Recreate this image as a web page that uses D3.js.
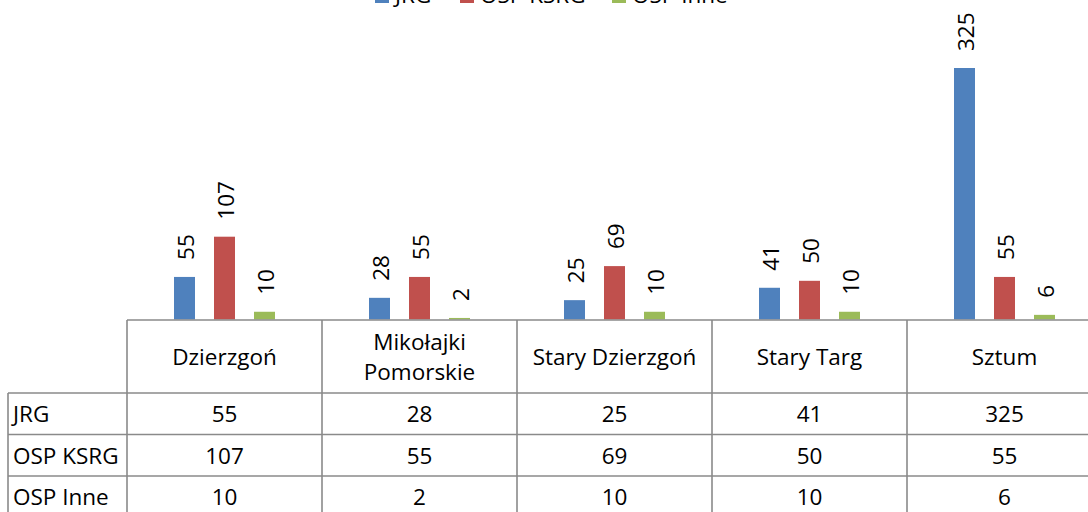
<!DOCTYPE html>
<html>
<head>
<meta charset="utf-8">
<script src="https://cdn.jsdelivr.net/npm/d3@7"></script>
<style>
  html, body { margin: 0; padding: 0; background: #fff; overflow: hidden; }
  svg { display: block; font-family: "Open Sans", sans-serif; }
</style>
</head>
<body>
<svg id="chart" width="1088" height="512"></svg>
<script>
const categories = ["Dzierzgoń", "Mikołajki Pomorskie", "Stary Dzierzgoń", "Stary Targ", "Sztum"];
const categoryLines = [["Dzierzgoń"], ["Mikołajki", "Pomorskie"], ["Stary Dzierzgoń"], ["Stary Targ"], ["Sztum"]];
const seriesNames = ["JRG", "OSP KSRG", "OSP Inne"];
const jrg = [55, 28, 25, 41, 325];
const ospKsrg = [107, 55, 69, 50, 55];
const ospInne = [10, 2, 10, 10, 6];
const seriesValues = [jrg, ospKsrg, ospInne];
const colors = ["#4F81BD", "#C0504D", "#9BBB59"];

const svg = d3.select("#chart");
const lineColor = "#8a8a8a";
const fontSize = 22.5;

const plotLeft = 127, plotRight = 1102, baseY = 319.5;
const x0 = d3.scaleBand().domain(categories).range([plotLeft, plotRight]);
const x1 = d3.scaleBand().domain(seriesNames).range([0, 120]).paddingInner(0.475).paddingOuter(0.2375);
const y = d3.scaleLinear().domain([0, 325]).range([baseY, 68]);

// bars
const g = svg.append("g");
categories.forEach((cat, ci) => {
  const gc = x0(cat) + x0.bandwidth() / 2 - 60;
  seriesNames.forEach((s, si) => {
    const v = seriesValues[si][ci];
    const bx = gc + x1(s);
    g.append("rect")
      .attr("x", bx).attr("y", y(v))
      .attr("width", x1.bandwidth()).attr("height", baseY - y(v))
      .attr("fill", colors[si]);
    const cx = bx + x1.bandwidth() / 2;
    const ty = y(v) - 17;
    g.append("text")
      .attr("transform", `translate(${cx + 1},${ty}) rotate(-90)`)
      .attr("text-anchor", "start")
      .attr("dominant-baseline", "central")
      .attr("font-size", fontSize)
      .attr("fill", "#000")
      .text(v);
  });
});

// table
const rowH = 41.5;
const headerTop = 320, headerBottom = 393;
const rowTops = seriesNames.map((s, i) => headerBottom + i * rowH);
const tableBottom = headerBottom + seriesNames.length * rowH;
const labelLeft = 8;

const t = svg.append("g").attr("stroke", lineColor).attr("stroke-width", 1.6).attr("fill", "none");
t.append("line").attr("x1", plotLeft).attr("x2", plotRight).attr("y1", headerTop).attr("y2", headerTop);
categories.forEach(cat => {
  t.append("line").attr("x1", x0(cat)).attr("x2", x0(cat)).attr("y1", headerTop).attr("y2", tableBottom);
});
t.append("line").attr("x1", plotRight).attr("x2", plotRight).attr("y1", headerTop).attr("y2", tableBottom);
t.append("line").attr("x1", labelLeft).attr("x2", labelLeft).attr("y1", headerBottom).attr("y2", tableBottom);
rowTops.concat([tableBottom]).forEach(ry => {
  t.append("line").attr("x1", labelLeft).attr("x2", plotRight).attr("y1", ry).attr("y2", ry);
});

// header labels
categories.forEach((cat, ci) => {
  const cx = x0(cat) + x0.bandwidth() / 2;
  const lines = categoryLines[ci];
  const lh = 30;
  const midY = (headerTop + headerBottom) / 2;
  lines.forEach((ln, li) => {
    svg.append("text")
      .attr("x", cx)
      .attr("y", midY + (li - (lines.length - 1) / 2) * lh)
      .attr("text-anchor", "middle")
      .attr("dominant-baseline", "central")
      .attr("font-size", fontSize)
      .attr("fill", "#000")
      .text(ln);
  });
});

// row labels and values
seriesNames.forEach((s, si) => {
  const cy = rowTops[si] + rowH / 2;
  svg.append("text")
    .attr("x", labelLeft + 5).attr("y", cy)
    .attr("dominant-baseline", "central")
    .attr("font-size", fontSize).attr("fill", "#000")
    .text(s);
  categories.forEach((cat, ci) => {
    svg.append("text")
      .attr("x", x0(cat) + x0.bandwidth() / 2).attr("y", cy)
      .attr("text-anchor", "middle")
      .attr("dominant-baseline", "central")
      .attr("font-size", fontSize).attr("fill", "#000")
      .text(seriesValues[si][ci]);
  });
});

// legend (partially cut off at the top, as in the reference)
const legendX = [375, 460, 612];
seriesNames.forEach((s, si) => {
  svg.append("rect")
    .attr("x", legendX[si]).attr("y", -10)
    .attr("width", 14).attr("height", 13)
    .attr("fill", colors[si]);
  svg.append("text")
    .attr("x", legendX[si] + 20).attr("y", 3)
    .attr("font-size", fontSize).attr("fill", "#000")
    .text(s);
});
</script>
</body>
</html>
